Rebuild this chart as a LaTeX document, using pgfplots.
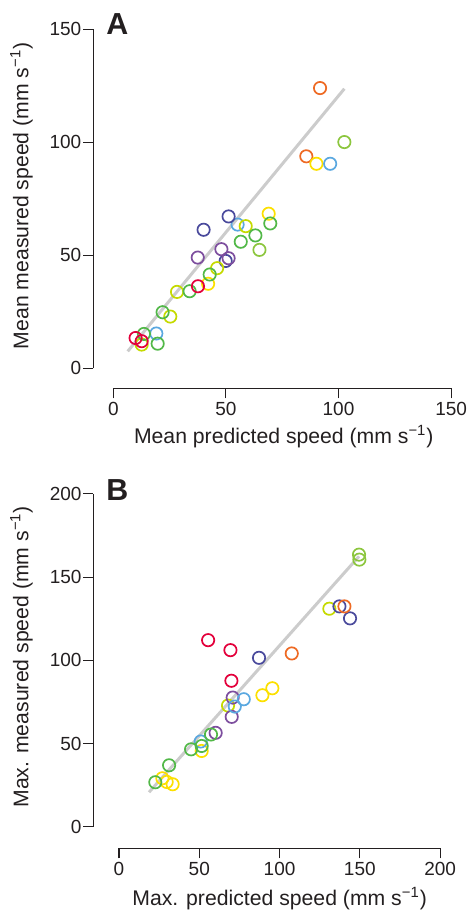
\documentclass[border=0pt]{standalone}
\usepackage{fontspec}
\setmainfont{Liberation Sans}
\usepackage{pgfplots}
\pgfplotsset{compat=1.18}

\definecolor{axcol}{HTML}{231F20}
\definecolor{fitgray}{HTML}{CCCCCC}
\definecolor{cRed}{HTML}{E3003B}
\definecolor{cOrange}{HTML}{EE6A24}
\definecolor{cYellow}{HTML}{FCE000}
\definecolor{cLime}{HTML}{C5DA00}
\definecolor{cYGreen}{HTML}{8CC63E}
\definecolor{cGreen}{HTML}{52B848}
\definecolor{cLBlue}{HTML}{5AA8E0}
\definecolor{cIndigo}{HTML}{4A4A9C}
\definecolor{cPurple}{HTML}{7D4E9E}

\pgfplotsset{
  speedax/.style={
    scale only axis, axis lines=left, axis line style={draw=none,-},
    enlargelimits=false, clip=false,
    tick align=outside, major tick length=5pt,
    tick style={line width=0.55pt, color=axcol},
    tick label style={font=\fontsize{9.5}{11}\selectfont, text=axcol},
    /pgf/number format/assume math mode=true,
    xticklabel style={inner sep=2pt},
    yticklabel style={inner sep=0.8pt},
    label style={font=\fontsize{10.6}{12}\selectfont, text=axcol},
  },
  fitline/.style={draw=fitgray, line width=1.5pt, mark=none},
  dot/.style={only marks, mark=o, mark size=3.08pt, mark options={line width=0.85pt}},
}

\begin{document}
\begin{tikzpicture}
\useasboundingbox (0,0) rectangle (234.5pt,-457pt);

% panel A
\begin{axis}[speedax,
  at={(46.65pt,-194.15pt)}, anchor=south west,
  width=178.9pt, height=179.5pt,
  xmin=-8.88, xmax=150, ymin=-8.85, ymax=150,
  xtick={0,50,100,150}, ytick={0,50,100,150},
  xlabel={Mean predicted speed (mm s\textsuperscript{−1})},
  ylabel={Mean measured speed (mm s\textsuperscript{−1})},
  xlabel style={at={(axis description cs:0.5324,-0.1532)}, anchor=base},
  ylabel style={at={(axis description cs:-0.1817,0.5362)}, anchor=base},
]
\draw[axcol, line width=0.55pt] (axis cs:0,-8.85) -- (axis cs:150,-8.85);
\draw[axcol, line width=0.55pt] (axis cs:-8.88,0) -- (axis cs:-8.88,150);
\addplot[fitline] coordinates {(6.4,7.5) (102.6,123.7)};
\addplot[dot, cOrange] coordinates {(91.8,124.0) (85.7,93.8)};
\addplot[dot, cYGreen] coordinates {(102.6,100.1) (64.9,52.4)};
\addplot[dot, cYellow] coordinates {(90.2,90.5) (69.0,68.4) (42.1,37.4)};
\addplot[dot, cLBlue] coordinates {(96.3,90.5) (55.2,63.6) (19.1,15.4)};
\addplot[dot, cIndigo] coordinates {(51.2,67.2) (40.1,61.3) (49.9,47.5)};
\addplot[dot, cLime] coordinates {(58.8,62.9) (46.1,44.3) (28.3,33.8) (25.3,22.9) (12.6,10.5)};
\addplot[dot, cGreen] coordinates {(69.7,64.1) (63.1,58.8) (56.6,56.0) (42.8,41.5) (33.9,34.1) (21.9,24.8) (13.6,15.2) (19.7,10.9)};
\addplot[dot, cPurple] coordinates {(48.0,52.7) (37.5,49.0) (51.2,48.7)};
\addplot[dot, cRed] coordinates {(37.6,36.3) (9.9,13.4) (12.6,12.0)};
\end{axis}

% panel B
\begin{axis}[speedax,
  at={(46.75pt,-424.15pt)}, anchor=south west,
  width=173.3pt, height=177.2pt,
  xmin=-15.9, xmax=200, ymin=-13.0, ymax=200,
  xtick={0,50,100,150,200}, ytick={0,50,100,150,200},
  xlabel={Max. predicted speed (mm s\textsuperscript{−1})},
  ylabel={Max. measured speed (mm s\textsuperscript{−1})},
  xlabel style={at={(axis description cs:0.537,-0.161)}, anchor=base},
  ylabel style={at={(axis description cs:-0.188,0.5406)}, anchor=base},
]
\draw[axcol, line width=0.55pt] (axis cs:0,-13.0) -- (axis cs:200,-13.0);
\draw[axcol, line width=0.55pt] (axis cs:-15.9,0) -- (axis cs:-15.9,200);
\addplot[fitline] coordinates {(18.7,20.7) (149.5,162.5)};
\addplot[dot, cYGreen] coordinates {(149.5,163.5) (149.7,160.5)};
\addplot[dot, cLime] coordinates {(131.0,131.0) (67.9,72.8)};
\addplot[dot, cIndigo] coordinates {(137.3,132.4) (143.9,125.2) (87.2,101.5)};
\addplot[dot, cOrange] coordinates {(140.4,132.4) (107.6,104.1)};
\addplot[dot, cRed] coordinates {(55.5,112.1) (69.4,106.1) (70.0,87.7)};
\addplot[dot, cYellow] coordinates {(95.5,83.2) (89.3,79.0) (51.5,45.5) (27.0,29.1) (29.7,26.9) (33.4,25.5)};
\addplot[dot, cPurple] coordinates {(70.8,77.6) (70.2,66.0) (60.2,56.4)};
\addplot[dot, cLBlue] coordinates {(77.7,76.6) (72.1,72.2) (50.9,51.2)};
\addplot[dot, cGreen] coordinates {(57.3,55.4) (51.5,48.5) (44.9,46.5) (31.2,36.9) (22.6,26.7)};
\end{axis}

\node[anchor=base west, inner sep=0pt, text=axcol, font=\fontsize{15.2}{18}\selectfont\bfseries] at (53pt,-17.5pt) {A};
\node[anchor=base west, inner sep=0pt, text=axcol, font=\fontsize{15.2}{18}\selectfont\bfseries] at (53pt,-250.35pt) {B};
\end{tikzpicture}
\end{document}
